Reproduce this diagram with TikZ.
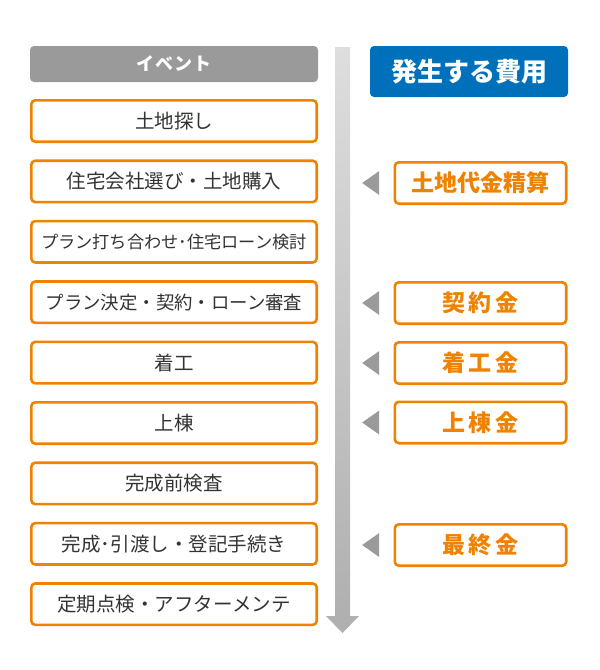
\documentclass[tikz,border=0pt]{standalone}
\usepackage{fontspec}
\setmainfont{Noto Sans CJK JP}
\usepackage{xcolor}
\usetikzlibrary{positioning}
\definecolor{evorange}{HTML}{EF8200}
\definecolor{costblue}{HTML}{0070BA}
\definecolor{headgray}{HTML}{9A9A9A}
\definecolor{txtgray}{HTML}{333333}
\newcommand{\ksp}{\kern3.6pt}

\begin{document}
\begin{tikzpicture}[x=1pt,y=-1pt,
  event/.style={draw=evorange,line width=2.6pt,rounded corners=4pt,minimum width=285.4pt,minimum height=41.4pt,inner sep=0pt,text=txtgray,font=\fontsize{19.5}{22}\selectfont},
  cost/.style={draw=evorange,line width=2.6pt,rounded corners=4pt,minimum width=171.4pt,minimum height=41.4pt,inner sep=0pt,text=evorange,font=\bfseries\fontsize{23}{26}\selectfont},
  headbox/.style={rounded corners=4pt,inner sep=0pt,text=white,font=\bfseries}]
\useasboundingbox (0,0) rectangle (600,670);
% headers
\node[headbox,fill=headgray,minimum width=288pt,minimum height=36pt,font=\bfseries\fontsize{18}{20}\selectfont] (evhead) at (174,64) {イ\kern1.2pt ベ\kern1.2pt ン\kern1.2pt ト};
\node[headbox,fill=costblue,minimum width=198pt,minimum height=51pt,font=\bfseries\fontsize{26}{28}\selectfont] (costhead) at (469,71.5) {発生する費用};
% time arrow
\coordinate (arrtop) at (342.5,47);
\coordinate (arrbot) at (342.5,616);
\shade[top color=gray!26,bottom color=gray!62] ([xshift=-7.5pt]arrtop) rectangle ([xshift=7.5pt]arrbot);
\fill[gray!62] ([xshift=-16.5pt]arrbot) -- ([xshift=16.5pt]arrbot) -- ([yshift=-17pt]arrbot) -- cycle;
% events
\node[event] (e1) at (174,121) {土地探し};
\node[event] (e2) at (174,181.4) {住宅会社選び・土地購入};
\node[event,font=\fontsize{17.2}{20}\selectfont] (e3) at (174,241.8) {プラン打ち合わせ･住宅ローン検討};
\node[event,font=\fontsize{18.4}{20}\selectfont] (e4) at (174,302.2) {プラン決定・契約・ローン審査};
\node[event] (e5) at (174,362.6) {着工};
\node[event] (e6) at (174,423) {上棟};
\node[event] (e7) at (174,483.4) {完成前検査};
\node[event] (e8) at (174,543.8) {完成･引渡し・登記手続き};
\node[event] (e9) at (174,604.2) {定期点検・アフターメンテ};
% costs
\node[cost] (c2) at (480.5,183) {土地代金精算};
\node[cost] (c4) at (480.5,303) {契\ksp 約\ksp 金};
\node[cost] (c5) at (480.5,363) {着\ksp 工\ksp 金};
\node[cost] (c6) at (480.5,422.5) {上\ksp 棟\ksp 金};
\node[cost] (c8) at (480.5,545) {最\ksp 終\ksp 金};
% pointers
\fill[headgray] ([xshift=-14.3pt,yshift=12pt]c2.west) -- ([xshift=-14.3pt,yshift=-12pt]c2.west) -- ([xshift=-31.3pt]c2.west) -- cycle;
\fill[headgray] ([xshift=-14.3pt,yshift=12pt]c4.west) -- ([xshift=-14.3pt,yshift=-12pt]c4.west) -- ([xshift=-31.3pt]c4.west) -- cycle;
\fill[headgray] ([xshift=-14.3pt,yshift=12pt]c5.west) -- ([xshift=-14.3pt,yshift=-12pt]c5.west) -- ([xshift=-31.3pt]c5.west) -- cycle;
\fill[headgray] ([xshift=-14.3pt,yshift=12pt]c6.west) -- ([xshift=-14.3pt,yshift=-12pt]c6.west) -- ([xshift=-31.3pt]c6.west) -- cycle;
\fill[headgray] ([xshift=-14.3pt,yshift=12pt]c8.west) -- ([xshift=-14.3pt,yshift=-12pt]c8.west) -- ([xshift=-31.3pt]c8.west) -- cycle;
\end{tikzpicture}
\end{document}
